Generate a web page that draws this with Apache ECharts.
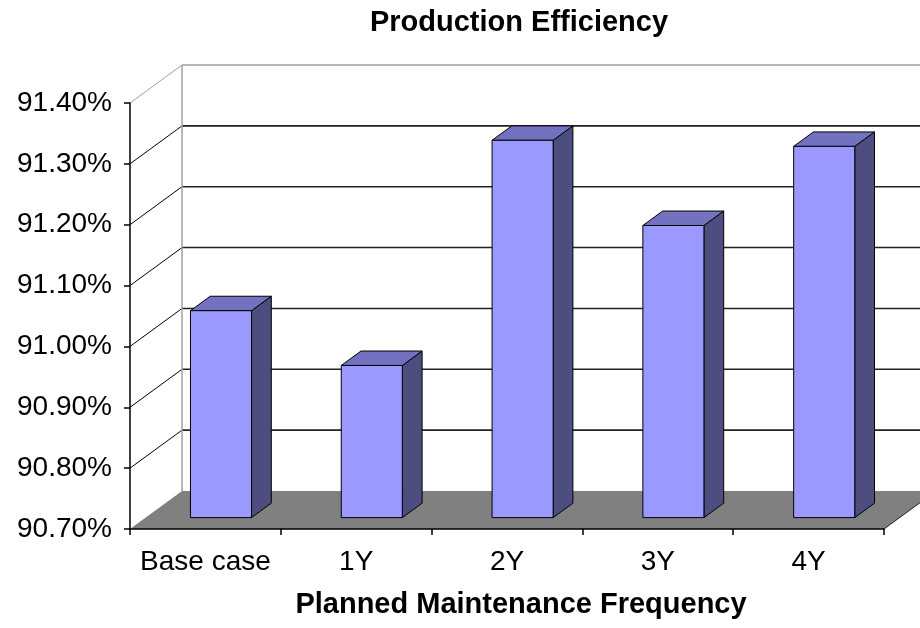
<!DOCTYPE html>
<html><head><meta charset="utf-8">
<script src="https://cdn.jsdelivr.net/npm/echarts@6/dist/echarts.min.js"></script>
<style>html,body{margin:0;padding:0;background:#fff}#c{width:920px;height:628px}</style>
</head><body><div id="c"></div>
<script>
const categories = ['Base case', '1Y', '2Y', '3Y', '4Y'];
const efficiency = [91.04, 90.95, 91.32, 91.18, 91.31];
const yTicks = [90.70, 90.80, 90.90, 91.00, 91.10, 91.20, 91.30, 91.40];
const titleText = 'Production Efficiency';
const xAxisTitle = 'Planned Maintenance Frequency';

const DEPTH_X = 52, DEPTH_Y = 38;
const BAR_OFF = 0.3, BAR_DEPTH = 0.38, BAR_W = 0.405;
const yMin = yTicks[0], yMax = yTicks[yTicks.length - 1];
const FONT = "'Liberation Sans', Arial, sans-serif";

const chart = echarts.init(document.getElementById('c'), null, {renderer: 'canvas'});

function frameItem(params, api) {
  const cs = params.coordSys;
  const v = api.value(1);
  const y = api.coord([0, v])[1];
  const yFloor = api.coord([0, yMin])[1];
  const x0 = cs.x, x1 = cs.x + cs.width;
  const children = [];
  if (Math.abs(v - yMin) < 1e-9) {
    children.push({type: 'polygon', z2: 5,
      shape: {points: [[x0, y], [x0 + DEPTH_X, y - DEPTH_Y], [x1 + DEPTH_X, y - DEPTH_Y], [x1, y]]},
      style: {fill: '#808080'}});
    children.push({type: 'line', z2: 6,
      shape: {x1: x1, y1: y, x2: x1 + DEPTH_X, y2: y - DEPTH_Y},
      style: {stroke: '#222', lineWidth: 1}});
  } else {
    const top = Math.abs(v - yMax) < 1e-9;
    const col = top ? '#a0a0a0' : '#000';
    children.push({type: 'line',
      shape: {x1: x0, y1: y, x2: x0 + DEPTH_X, y2: y - DEPTH_Y},
      style: {stroke: col, lineWidth: 1}});
    children.push({type: 'line',
      shape: {x1: x0 + DEPTH_X, y1: y - DEPTH_Y, x2: x1 + DEPTH_X + 10, y2: y - DEPTH_Y},
      style: {stroke: top ? '#a0a0a0' : '#222', lineWidth: top ? 1.5 : 1.6}});
    if (top) {
      children.push({type: 'line',
        shape: {x1: x0 + DEPTH_X, y1: y - DEPTH_Y, x2: x0 + DEPTH_X, y2: yFloor - DEPTH_Y},
        style: {stroke: '#a0a0a0', lineWidth: 1.5}});
    }
  }
  return {type: 'group', children};
}

function barItem(params, api) {
  const i = api.value(0), v = api.value(1);
  const topPt = api.coord([i, v]), basePt = api.coord([i, yMin]);
  const cw = api.size([1, 0])[0];
  const w = cw * BAR_W;
  const ox = DEPTH_X * BAR_OFF, oy = DEPTH_Y * BAR_OFF;
  const bx = DEPTH_X * BAR_DEPTH, by = DEPTH_Y * BAR_DEPTH;
  const xl = topPt[0] - w / 2 + ox, xr = xl + w;
  const yt = topPt[1] - oy, yb = basePt[1] - oy;
  const stroke = {stroke: '#000', lineWidth: 1};
  return {type: 'group', children: [
    {type: 'polygon', shape: {points: [[xr, yt], [xr + bx, yt - by], [xr + bx, yb - by], [xr, yb]]},
      style: Object.assign({fill: '#4D4D80'}, stroke)},
    {type: 'polygon', shape: {points: [[xl, yt], [xl + bx, yt - by], [xr + bx, yt - by], [xr, yt]]},
      style: Object.assign({fill: '#7272C0'}, stroke)},
    {type: 'rect', shape: {x: xl, y: yt, width: w, height: yb - yt},
      style: Object.assign({fill: '#9999FF'}, stroke)}
  ]};
}

const option = {
  animation: false,
  backgroundColor: '#fff',
  title: [
    {text: titleText, left: 519, top: 8, padding: 0, textAlign: 'center',
      textStyle: {fontFamily: FONT, fontSize: 29, fontWeight: 'bold', color: '#000'}},
    {text: xAxisTitle, left: 521, top: 590, padding: 0, textAlign: 'center',
      textStyle: {fontFamily: FONT, fontSize: 29, fontWeight: 'bold', color: '#000'}}
  ],
  grid: {left: 130, right: 36, top: 103, bottom: 99, containLabel: false},
  xAxis: {
    type: 'category', data: categories, z: 10,
    axisLine: {lineStyle: {color: '#000', width: 1.5}},
    axisTick: {show: true, interval: 0, length: 6, alignWithLabel: false, lineStyle: {color: '#000', width: 1.5}},
    axisLabel: {interval: 0, fontFamily: FONT, fontSize: 28, color: '#000', margin: 19},
    splitLine: {show: false}
  },
  yAxis: {
    type: 'value', min: yMin, max: yMax, interval: 0.1, z: 10,
    axisLine: {show: true, lineStyle: {color: '#000', width: 1.5}},
    axisTick: {show: true, length: 6, lineStyle: {color: '#000', width: 1.5}},
    axisLabel: {fontFamily: FONT, fontSize: 28, color: '#000', margin: 18,
      formatter: function (v) { return v.toFixed(2) + '%'; }},
    splitLine: {show: false}
  },
  series: [
    {type: 'custom', name: 'frame', z: 1, clip: false, silent: true,
      data: yTicks.map(function (v) { return [0, v]; }),
      encode: {x: 0, y: 1},
      renderItem: frameItem},
    {type: 'custom', name: 'Production Efficiency', z: 3, clip: false,
      data: efficiency.map(function (v, i) { return [i, v]; }),
      encode: {x: 0, y: 1},
      renderItem: barItem}
  ]
};
chart.setOption(option);
</script>
</body></html>
